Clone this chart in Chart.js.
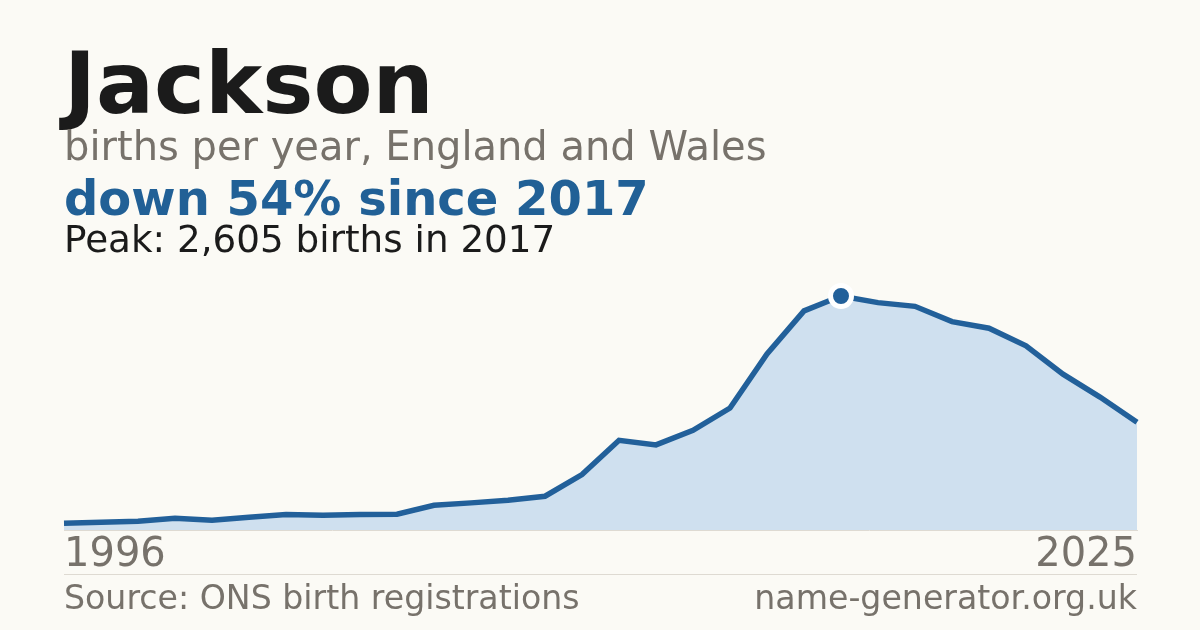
<!DOCTYPE html>
<html>
<head>
<meta charset="utf-8">
<script src="https://cdn.jsdelivr.net/npm/chart.js@4.4.1/dist/chart.umd.min.js"></script>
<style>
  html, body { margin: 0; padding: 0; background: #fbfaf5; }
  #wrap { position: relative; width: 1200px; height: 630px; overflow: hidden; background: #fbfaf5; font-family: "DejaVu Sans", sans-serif; }
  #c { position: absolute; left: 0; top: 0; }
  .t { position: absolute; left: 64px; line-height: 1; white-space: nowrap; }
  #title { top: 40px; font-size: 86px; font-weight: bold; color: #1b1b1b; }
  #sub { top: 125.5px; font-size: 40px; color: #77726b; }
  #down { top: 173.7px; font-size: 48px; font-weight: bold; color: #216096; }
  #peak { top: 221.2px; font-size: 37.3px; color: #1b1b1b; }
  #rule { position: absolute; left: 64px; width: 1073px; top: 574px; height: 1px; background: #dedad2; }
  #src { top: 581.2px; font-size: 33.2px; color: #77726b; }
  #site { top: 581.2px; left: auto; right: 63px; font-size: 33.2px; color: #77726b; }
</style>
</head>
<body>
<div id="wrap">
  <canvas id="c" width="1200" height="630"></canvas>
  <div class="t" id="title">Jackson</div>
  <div class="t" id="sub">births per year, England and Wales</div>
  <div class="t" id="down">down 54% since 2017</div>
  <div class="t" id="peak">Peak: 2,605 births in 2017</div>
  <div id="rule"></div>
  <div class="t" id="src">Source: ONS birth registrations</div>
  <div class="t" id="site">name-generator.org.uk</div>
</div>
<script>
const years = ["1996","1997","1998","1999","2000","2001","2002","2003","2004","2005",
               "2006","2007","2008","2009","2010","2011","2012","2013","2014","2015",
               "2016","2017","2018","2019","2020","2021","2022","2023","2024","2025"];
const births = [76, 87, 98, 131, 109, 142, 172, 164, 172, 176,
                276, 302, 331, 376, 617, 998, 947, 1109, 1358, 1961,
                2439, 2605, 2531, 2490, 2320, 2246, 2050, 1735, 1480, 1200];
const tickLabels = ["1996", "2025"];
const peakYear = "2017";

const peakIndex = years.indexOf(peakYear);
const peakValue = births[peakIndex];

new Chart(document.getElementById('c'), {
  type: 'line',
  data: {
    labels: years,
    datasets: [{
      data: births,
      borderColor: '#22609a',
      borderWidth: 5.5,
      backgroundColor: '#cfe0ef',
      fill: 'origin',
      tension: 0,
      clip: false,
      pointRadius: ctx => ctx.dataIndex === peakIndex ? 10.5 : 0,
      pointHoverRadius: ctx => ctx.dataIndex === peakIndex ? 10.5 : 0,
      pointBackgroundColor: '#22609a',
      pointBorderColor: '#ffffff',
      pointBorderWidth: 5
    }]
  },
  options: {
    responsive: false,
    animation: false,
    events: [],
    layout: { padding: { left: 64, right: 63, top: 296, bottom: 48 } },
    plugins: { legend: { display: false }, tooltip: { enabled: false } },
    scales: {
      x: {
        type: 'category',
        offset: false,
        grid: { display: false, drawTicks: false },
        border: { display: true, color: '#dedad2', width: 1 },
        ticks: {
          autoSkip: false,
          maxRotation: 0,
          minRotation: 0,
          align: 'inner',
          padding: 2,
          color: '#77726b',
          font: { family: 'DejaVu Sans', size: 40 },
          callback: function(value) {
            const l = this.getLabelForValue(value);
            return tickLabels.includes(l) ? l : '';
          }
        }
      },
      y: {
        display: false,
        min: 0,
        max: peakValue
      }
    }
  }
});
</script>
</body>
</html>
